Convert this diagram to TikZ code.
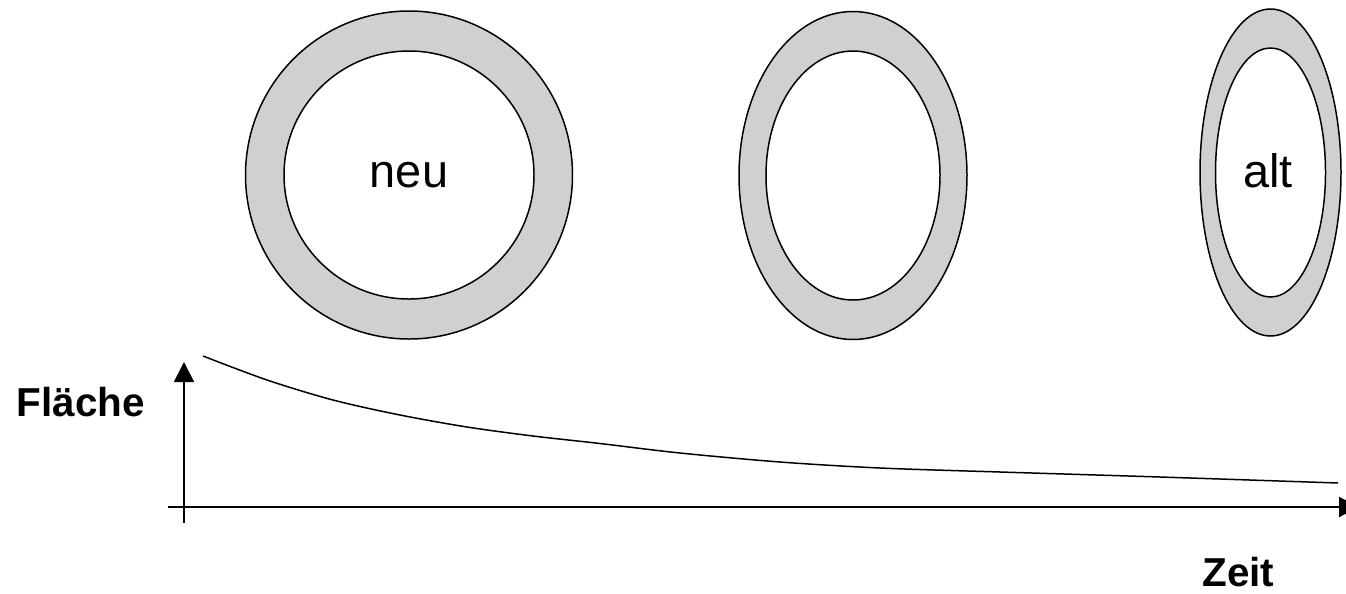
\documentclass[tikz,border=0pt]{standalone}
\usepackage{fontspec}
\setmainfont{Liberation Sans}
\usepackage{xcolor}
\usepackage{tikz}
\usetikzlibrary{arrows.meta}
\definecolor{ringgray}{RGB}{208,208,208}
\tikzset{
    ring/.style={draw,line width=0.85pt,fill=ringgray},
    hole/.style={draw,line width=0.85pt,fill=white},
    axis/.style={line width=1.1pt,-{Triangle[width=0.4cm,length=0.4cm]}},
    ringlabel/.style={anchor=base,inner sep=0pt,font=\fontsize{26.7}{32}\selectfont},
    axislabel/.style={anchor=base,inner sep=0pt,font=\fontsize{23}{28}\selectfont\bfseries}
}

\begin{document}
\begin{tikzpicture}[x=0.02cm,y=-0.02cm]
    \useasboundingbox (0,0) rectangle (1346,593);
    % rings
    \coordinate (r1) at (409,175);
    \coordinate (r2) at (853,175.5);
    \coordinate (r3) at (1270.5,172.5);
    \filldraw[ring] (r1) ellipse [x radius=163.5,y radius=164];
    \filldraw[hole] (r1) ellipse [x radius=125,y radius=124];
    \filldraw[ring] (r2) ellipse [x radius=114,y radius=164];
    \filldraw[hole] (r2) ellipse [x radius=87,y radius=124.5];
    \filldraw[ring] (r3) ellipse [x radius=70.5,y radius=163.5];
    \filldraw[hole] (r3) ellipse [x radius=55,y radius=124.5];
    \node[ringlabel] (neu) at (409,187) {neu};
    \node[ringlabel] (alt) at (1268,187) {alt};
    % axes
    \coordinate (xstart) at (168,507);
    \coordinate (xend) at (1359,507);
    \coordinate (ystart) at (184,523);
    \coordinate (yend) at (184,362);
    \draw[axis] (xstart) -- (xend);
    \draw[axis] (ystart) -- (yend);
    \node[axislabel] (flaeche) at (81,416) {Fläche};
    \node[axislabel] (zeit) at (1238.5,586) {Zeit};
    % curve
    \draw[line width=0.85pt] plot[smooth] coordinates {(203,356) (267,380) (333,400) (400,415)
        (467,427) (533,436) (600,443.5) (680,453) (780,462) (880,468) (1000,472) (1160,477) (1338,483)};
\end{tikzpicture}
\end{document}
